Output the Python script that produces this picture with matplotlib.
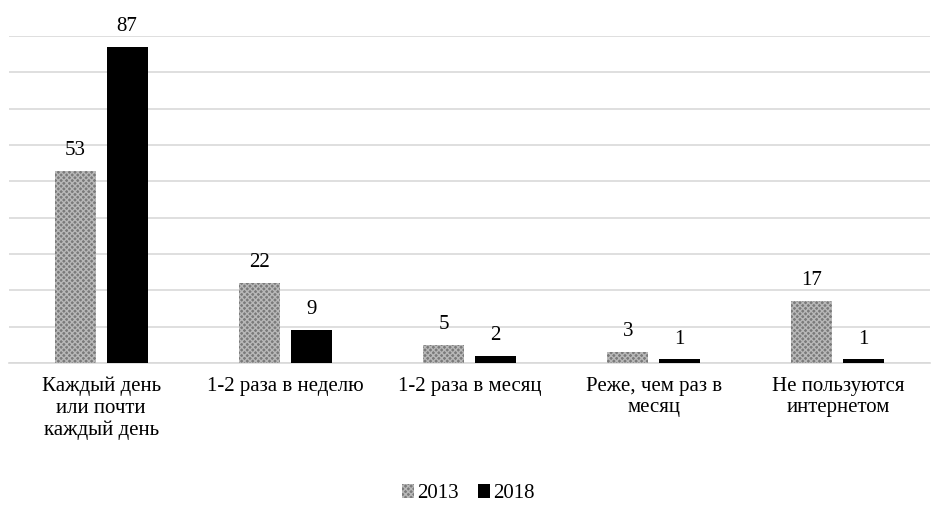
import matplotlib
matplotlib.use("Agg")
import matplotlib.pyplot as plt
import numpy as np

categories = ["Каждый день\nили почти\nкаждый день", "1-2 раза в неделю", "1-2 раза в месяц",
              "Реже, чем раз в\nмесяц", "Не пользуются\nинтернетом"]
series_names = ["2013", "2018"]
values_2013 = [53, 22, 5, 3, 17]
values_2018 = [87, 9, 2, 1, 1]

plt.rcParams['font.family'] = ['Liberation Serif', 'DejaVu Serif']
plt.rcParams['hatch.linewidth'] = 1.0

fig = plt.figure(figsize=(9.37, 5.05), dpi=100)
ax = fig.add_axes([0.0096, 0.281, 0.9829, 0.6475])

x = np.arange(len(categories))
w = 0.223
off = 0.141
b1 = ax.bar(x - off, values_2013, w, color='#7a7a7a', hatch='xxxxxx', edgecolor='#b8b8b8',
            linewidth=0, label=series_names[0], zorder=3)
b2 = ax.bar(x + off, values_2018, w, color='black', label=series_names[1], zorder=3)

for bars, vals in ((b1, values_2013), (b2, values_2018)):
    for r, v in zip(bars, vals):
        ax.text(r.get_x() + r.get_width() / 2, v + 3.0, str(v), ha='center', va='bottom',
                fontsize=15)

ax.set_xlim(-0.5, len(categories) - 0.5)
ax.set_ylim(0, 90)
ax.set_yticks(np.arange(0, 91, 10))
ax.yaxis.grid(True, color='#d9d9d9', linewidth=1.2, zorder=0)
ax.tick_params(axis='y', length=0, labelleft=False)
ax.tick_params(axis='x', length=0, pad=10, labelsize=15)
ax.set_xticks(x)
ax.set_xticklabels(categories, linespacing=1.17)
for s in ['top', 'right', 'left']:
    ax.spines[s].set_visible(False)
ax.spines['bottom'].set_color('#d9d9d9')
ax.spines['bottom'].set_linewidth(1.2)

fig.legend(handles=[b1, b2], labels=series_names, loc='center', bbox_to_anchor=(0.5, 0.022),
           ncol=2, frameon=False, fontsize=15, handlelength=0.6, handleheight=0.6,
           handletextpad=0.15, columnspacing=0.9)

fig.savefig('out.png', dpi=100)
